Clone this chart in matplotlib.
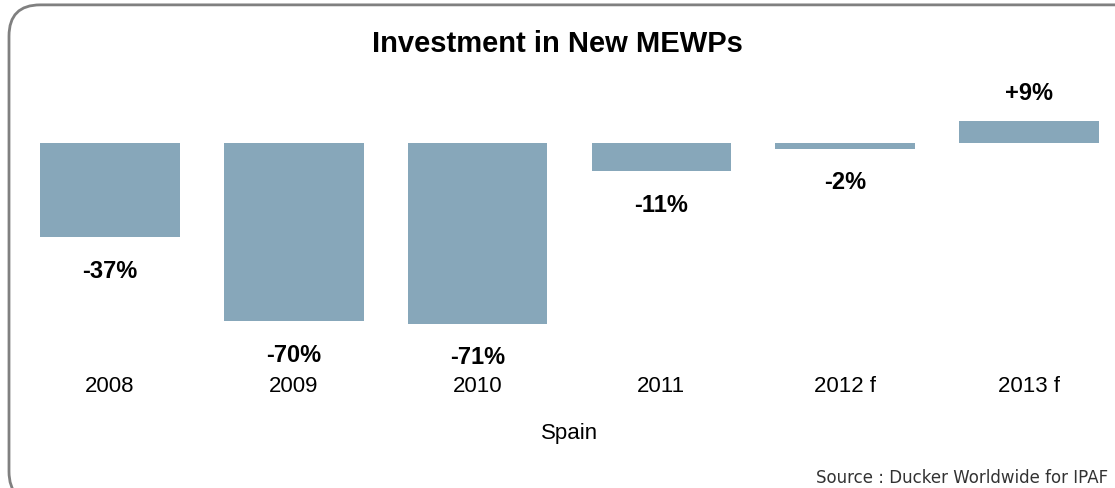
import matplotlib.pyplot as plt
from matplotlib.patches import FancyBboxPatch

years = ['2008', '2009', '2010', '2011', '2012 f', '2013 f']
change = [-37, -70, -71, -11, -2, 9]
labels = ['-37%', '-70%', '-71%', '-11%', '-2%', '+9%']

if __name__ == "__main__":
    plt.rcParams['font.family'] = ['Liberation Sans', 'DejaVu Sans']
    fig = plt.figure(figsize=(11.15, 4.89), dpi=100)

    # rounded frame, right and bottom run off the picture
    frame = FancyBboxPatch((9 / 1115, -0.03), 1.2, 0.988 + 0.03,
                           boxstyle='round,pad=0,rounding_size=0.028',
                           transform=fig.transFigure, fill=False,
                           edgecolor='#808080', linewidth=2, mutation_aspect=1115 / 489)
    fig.patches.append(frame)

    ax = fig.add_axes([18 / 1115, (489 - 365) / 489, 1103 / 1115, 265 / 489])
    x = list(range(len(years)))
    ax.bar(x, change, width=0.76, color='#87A7BA')
    ax.set_xlim(-0.5, 5.5)
    ax.set_ylim(-86.8, 17.5)

    for i, v in enumerate(change):
        off = 11 if v >= 0 else -13
        ax.text(i, v + off, labels[i], ha='center', va='center',
                fontsize=17, fontweight='bold', color='black')

    ax.set_xticks(x)
    ax.set_xticklabels(years, fontsize=16)
    ax.tick_params(axis='x', length=0, pad=8)
    ax.set_yticks([])
    for s in ax.spines.values():
        s.set_visible(False)
    ax.set_xlabel('Spain', fontsize=16, labelpad=19)
    ax.patch.set_alpha(0)

    fig.text(557 / 1115, 1 - 44 / 489, 'Investment in New MEWPs', ha='center', va='center',
             fontsize=21, fontweight='bold')
    fig.text(1108 / 1115, 1 - 478 / 489, 'Source : Ducker Worldwide for IPAF', ha='right',
             va='center', fontsize=12, color='#333333', family='DejaVu Sans')

    fig.savefig('out.png', dpi=100)
